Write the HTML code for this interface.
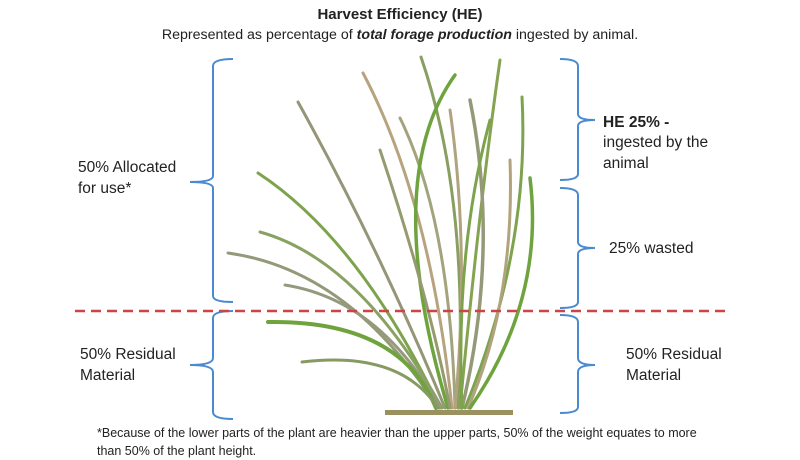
<!DOCTYPE html>
<html><head><meta charset="utf-8"><style>
body{margin:0;background:#fff}
svg{display:block}
text{font-family:"Liberation Sans",sans-serif;fill:#222}
</style></head><body>
<svg width="800" height="460" viewBox="0 0 800 460">
<text x="400" y="19" font-size="15" font-weight="bold" text-anchor="middle">Harvest Efficiency (HE)</text>
<text x="400" y="39" font-size="14.2" text-anchor="middle">Represented as percentage of <tspan font-weight="bold" font-style="italic">total forage production</tspan> ingested by animal.</text>

<g fill="none" stroke="#4a8ad0" stroke-width="2">
<path d="M233,59 Q213,59 213,66 L213,176 Q213,182 190,182 Q213,182 213,188 L213,296 Q213,302 233,302"/>
<path d="M233,311 Q213,311 213,318 L213,358 Q213,365 190,365 Q213,365 213,372 L213,412 Q213,419 233,419"/>
<path d="M560,59 Q578,59 578,66 L578,114 Q578,120 595,120 Q578,120 578,126 L578,174 Q578,180 560,180"/>
<path d="M560,188 Q578,188 578,195 L578,242 Q578,248 595,248 Q578,248 578,254 L578,302 Q578,308 560,308"/>
<path d="M560,315 Q578,315 578,322 L578,358 Q578,365 595,365 Q578,365 578,372 L578,407 Q578,413 560,413"/>
</g>

<g fill="none" stroke-linecap="round" opacity="0.9">
<path d="M445,408 Q380,250 298,102" stroke="#8a8a6a" stroke-width="3"/>
<path d="M440,408 Q360,240 258,173" stroke="#6f9a3a" stroke-width="3"/>
<path d="M438,408 Q350,270 228,253" stroke="#8b8f6a" stroke-width="3"/>
<path d="M442,408 Q360,260 260,232" stroke="#7d9850" stroke-width="3"/>
<path d="M440,408 Q380,300 285,285" stroke="#8a8e70" stroke-width="3"/>
<path d="M436,408 Q400,320 268,322" stroke="#5f9a2a" stroke-width="4"/>
<path d="M438,408 Q400,350 302,362" stroke="#7a9050" stroke-width="3"/>
<path d="M452,408 Q430,200 363,73" stroke="#b09a70" stroke-width="3"/>
<path d="M455,408 Q450,220 400,118" stroke="#9a9a70" stroke-width="3"/>
<path d="M458,408 Q470,200 421,57" stroke="#7d9450" stroke-width="3"/>
<path d="M448,408 Q380,180 455,75" stroke="#5f9a2a" stroke-width="3.5"/>
<path d="M460,408 Q480,200 500,60" stroke="#7a9a40" stroke-width="3"/>
<path d="M462,408 Q500,250 470,100" stroke="#8a8e6a" stroke-width="3.5"/>
<path d="M465,408 Q530,250 522,97" stroke="#6f9a3a" stroke-width="3"/>
<path d="M468,408 Q515,300 510,160" stroke="#a89a70" stroke-width="3"/>
<path d="M470,408 Q545,300 530,178" stroke="#5f9a2a" stroke-width="3.5"/>
<path d="M455,408 Q470,250 450,110" stroke="#a89a70" stroke-width="3"/>
<path d="M450,408 Q430,300 380,150" stroke="#8a9060" stroke-width="3"/>
<path d="M462,408 Q455,250 490,120" stroke="#6f9a3a" stroke-width="3"/>
</g>
<rect x="385" y="410" width="128" height="5" fill="#9a9060"/>

<line x1="75" y1="311" x2="725" y2="311" stroke="#cc4444" stroke-width="2.5" stroke-dasharray="10,6"/>

<text font-size="15.5"><tspan x="78" y="172">50% Allocated</tspan><tspan x="78" y="193">for use*</tspan></text>
<text font-size="15.5"><tspan x="80" y="359">50% Residual</tspan><tspan x="80" y="380">Material</tspan></text>
<text font-size="15.5"><tspan x="603" y="127" font-weight="bold">HE 25% -</tspan><tspan x="603" y="147">ingested by the</tspan><tspan x="603" y="168">animal</tspan></text>
<text x="609" y="253" font-size="15.5">25% wasted</text>
<text font-size="15.5"><tspan x="626" y="359">50% Residual</tspan><tspan x="626" y="380">Material</tspan></text>
<text font-size="12.5"><tspan x="97" y="437">*Because of the lower parts of the plant are heavier than the upper parts, 50% of the weight equates to more</tspan><tspan x="97" y="455">than 50% of the plant height.</tspan></text>
</svg>
</body></html>
